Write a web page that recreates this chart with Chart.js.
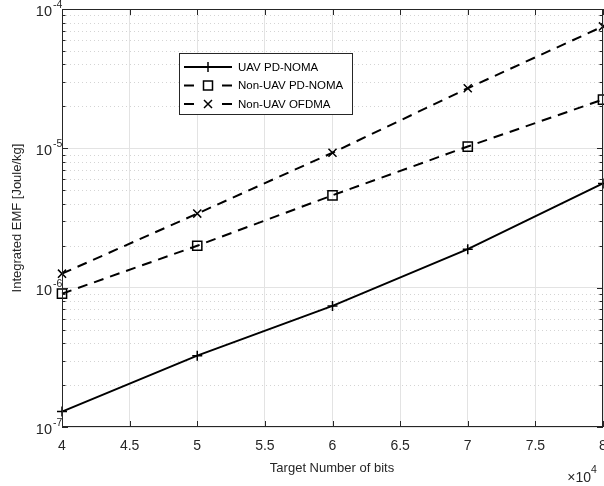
<!DOCTYPE html>
<html>
<head>
<meta charset="utf-8">
<script src="https://cdn.jsdelivr.net/npm/chart.js@4.4.1/dist/chart.umd.min.js"></script>
<style>
  html, body { margin: 0; padding: 0; background: #fff; }
  #plot { display: block; }
</style>
</head>
<body>
<canvas id="plot" width="604" height="486"></canvas>
<script>
// target number of bits (x axis, shown in units of 10^4)
const targetBits = [40000, 50000, 60000, 70000, 80000];
const xTickValues = [40000, 45000, 50000, 55000, 60000, 65000, 70000, 75000, 80000];
const yDecades = [-7, -6, -5, -4];

// integrated EMF [Joule/kg]
const uavPdNoma = [1.29e-7, 3.25e-7, 7.4e-7, 1.89e-6, 5.6e-6];
const nonUavPdNoma = [9.05e-7, 2.0e-6, 4.6e-6, 1.03e-5, 2.24e-5];
const nonUavOfdma = [1.26e-6, 3.4e-6, 9.3e-6, 2.7e-5, 7.5e-5];

const seriesNames = ['UAV PD-NOMA', 'Non-UAV PD-NOMA', 'Non-UAV OFDMA'];

const FONT = '"Liberation Sans", Arial, Helvetica, sans-serif';
const TEXT = '#262626';
const DASH = [10, 7];

function pts(ys) {
  return ys.map((y, i) => ({ x: targetBits[i], y: y }));
}

// y ticks: 1..9 x each decade
const yTickValues = [];
yDecades.forEach((d, i) => {
  const last = i === yDecades.length - 1;
  for (let m = 1; m <= (last ? 1 : 9); m++) yTickValues.push(m * Math.pow(10, d));
});
const isDecade = (v) => Math.abs(Math.log10(v) - Math.round(Math.log10(v))) < 1e-9;

function drawMarker(ctx, style, x, y) {
  ctx.save();
  ctx.strokeStyle = '#000';
  ctx.lineWidth = 1.5;
  ctx.setLineDash([]);
  ctx.beginPath();
  if (style === 'cross') {
    ctx.moveTo(x - 5, y); ctx.lineTo(x + 5, y);
    ctx.moveTo(x, y - 5); ctx.lineTo(x, y + 5);
  } else if (style === 'rect') {
    ctx.rect(x - 4.5, y - 4.5, 9, 9);
  } else {
    ctx.moveTo(x - 4, y - 4); ctx.lineTo(x + 4, y + 4);
    ctx.moveTo(x + 4, y - 4); ctx.lineTo(x - 4, y + 4);
  }
  ctx.stroke();
  ctx.restore();
}

const matlabFrame = {
  id: 'matlabFrame',
  beforeDatasetsDraw(chart) {
    const { ctx, chartArea: a, scales } = chart;
    ctx.save();
    ctx.strokeStyle = '#d4d4d4';
    ctx.lineWidth = 1;
    ctx.setLineDash([1, 3]);
    yTickValues.filter(v => !isDecade(v)).forEach(v => {
      const y = Math.round(scales.y.getPixelForValue(v)) + 0.5;
      ctx.beginPath();
      ctx.moveTo(a.left, y);
      ctx.lineTo(a.right, y);
      ctx.stroke();
    });
    ctx.restore();
  },
  afterDraw(chart) {
    const { ctx, chartArea: a, scales } = chart;
    ctx.save();
    // box
    ctx.strokeStyle = TEXT;
    ctx.lineWidth = 1;
    ctx.strokeRect(a.left + 0.5, a.top + 0.5, a.right - a.left - 1, a.bottom - a.top - 1);

    // inward ticks
    ctx.beginPath();
    yTickValues.forEach(v => {
      const y = Math.round(scales.y.getPixelForValue(v)) + 0.5;
      const len = isDecade(v) ? 6 : 3.5;
      ctx.moveTo(a.left, y); ctx.lineTo(a.left + len, y);
      ctx.moveTo(a.right, y); ctx.lineTo(a.right - len, y);
    });
    xTickValues.forEach(v => {
      const x = Math.round(scales.x.getPixelForValue(v)) + 0.5;
      ctx.moveTo(x, a.bottom); ctx.lineTo(x, a.bottom - 6);
      ctx.moveTo(x, a.top); ctx.lineTo(x, a.top + 6);
    });
    ctx.stroke();

    // tick labels
    ctx.fillStyle = TEXT;
    ctx.font = '14px ' + FONT;
    ctx.textAlign = 'center';
    ctx.textBaseline = 'middle';
    xTickValues.forEach(v => {
      ctx.fillText(String(v / 1e4), scales.x.getPixelForValue(v), 446);
    });
    yDecades.forEach(d => {
      const y = scales.y.getPixelForValue(Math.pow(10, d));
      ctx.font = '14.5px ' + FONT;
      ctx.textAlign = 'right';
      ctx.textBaseline = 'middle';
      ctx.fillText('10', 52, y + 3);
      ctx.font = '10.5px ' + FONT;
      ctx.textAlign = 'left';
      ctx.fillText(String(d), 53, y - 4);
    });

    // x10^4 multiplier
    ctx.font = '14px ' + FONT;
    ctx.textAlign = 'right';
    ctx.textBaseline = 'middle';
    ctx.fillText('\u00d710', 591, 478);
    ctx.font = '10.5px ' + FONT;
    ctx.textAlign = 'left';
    ctx.fillText('4', 591, 470);

    // axis titles
    ctx.font = '13px ' + FONT;
    ctx.textAlign = 'center';
    ctx.fillText('Target Number of bits', 332, 468);
    ctx.save();
    ctx.translate(17, (a.top + a.bottom) / 2);
    ctx.rotate(-Math.PI / 2);
    ctx.fillText('Integrated EMF [Joule/kg]', 0, 0);
    ctx.restore();

    // legend
    const lx = 179, ly = 53, lw = 173, lh = 61;
    ctx.fillStyle = '#fff';
    ctx.fillRect(lx, ly, lw, lh);
    ctx.strokeStyle = TEXT;
    ctx.lineWidth = 1;
    ctx.strokeRect(lx + 0.5, ly + 0.5, lw, lh);
    const styles = ['cross', 'rect', 'crossRot'];
    seriesNames.forEach((name, i) => {
      const y = 67 + i * 18.5;
      ctx.strokeStyle = '#000';
      ctx.lineWidth = 2;
      ctx.setLineDash([]);
      ctx.beginPath();
      if (i === 0) {
        ctx.moveTo(184, y); ctx.lineTo(232, y);
      } else {
        ctx.moveTo(184, y); ctx.lineTo(194, y);
        ctx.moveTo(222, y); ctx.lineTo(232, y);
      }
      ctx.stroke();
      drawMarker(ctx, styles[i], 208, y);
      ctx.fillStyle = '#000';
      ctx.font = '11.5px ' + FONT;
      ctx.textAlign = 'left';
      ctx.textBaseline = 'middle';
      ctx.fillText(name, 238, y + 0.5);
    });
    ctx.restore();
  }
};

const baseLine = {
  borderColor: '#000',
  backgroundColor: 'rgba(0,0,0,0)',
  borderWidth: 2,
  pointBorderWidth: 1.5,
  pointBorderColor: '#000',
  pointBackgroundColor: 'rgba(0,0,0,0)',
  tension: 0,
  clip: 8,
};

new Chart(document.getElementById('plot'), {
  type: 'line',
  data: {
    datasets: [
      { ...baseLine, label: seriesNames[0], data: pts(uavPdNoma), pointStyle: 'cross', pointRadius: 5 },
      { ...baseLine, label: seriesNames[1], data: pts(nonUavPdNoma), pointStyle: 'rect', pointRadius: 6.5, borderDash: DASH },
      { ...baseLine, label: seriesNames[2], data: pts(nonUavOfdma), pointStyle: 'crossRot', pointRadius: 5.7, borderDash: DASH },
    ],
  },
  options: {
    responsive: false,
    animation: false,
    devicePixelRatio: 1,
    layout: { autoPadding: false, padding: { left: 0, right: 1, top: 9, bottom: 0 } },
    plugins: { legend: { display: false }, tooltip: { enabled: false } },
    scales: {
      x: {
        type: 'linear',
        min: 40000,
        max: 80000,
        afterBuildTicks: (scale) => { scale.ticks = xTickValues.map(v => ({ value: v })); },
        afterFit: (scale) => { scale.height = 59; },
        ticks: { display: false },
        grid: { color: '#e3e3e3', lineWidth: 1, drawTicks: false },
        border: { display: false },
      },
      y: {
        type: 'logarithmic',
        min: 1e-7,
        max: 1e-4,
        afterBuildTicks: (scale) => { scale.ticks = yTickValues.map(v => ({ value: v })); },
        afterFit: (scale) => { scale.width = 62; },
        ticks: { display: false },
        grid: {
          color: (c) => (c.tick && isDecade(c.tick.value) ? '#e3e3e3' : 'rgba(0,0,0,0)'),
          lineWidth: 1,
          drawTicks: false,
        },
        border: { display: false },
      },
    },
  },
  plugins: [matlabFrame],
});
</script>
</body>
</html>
